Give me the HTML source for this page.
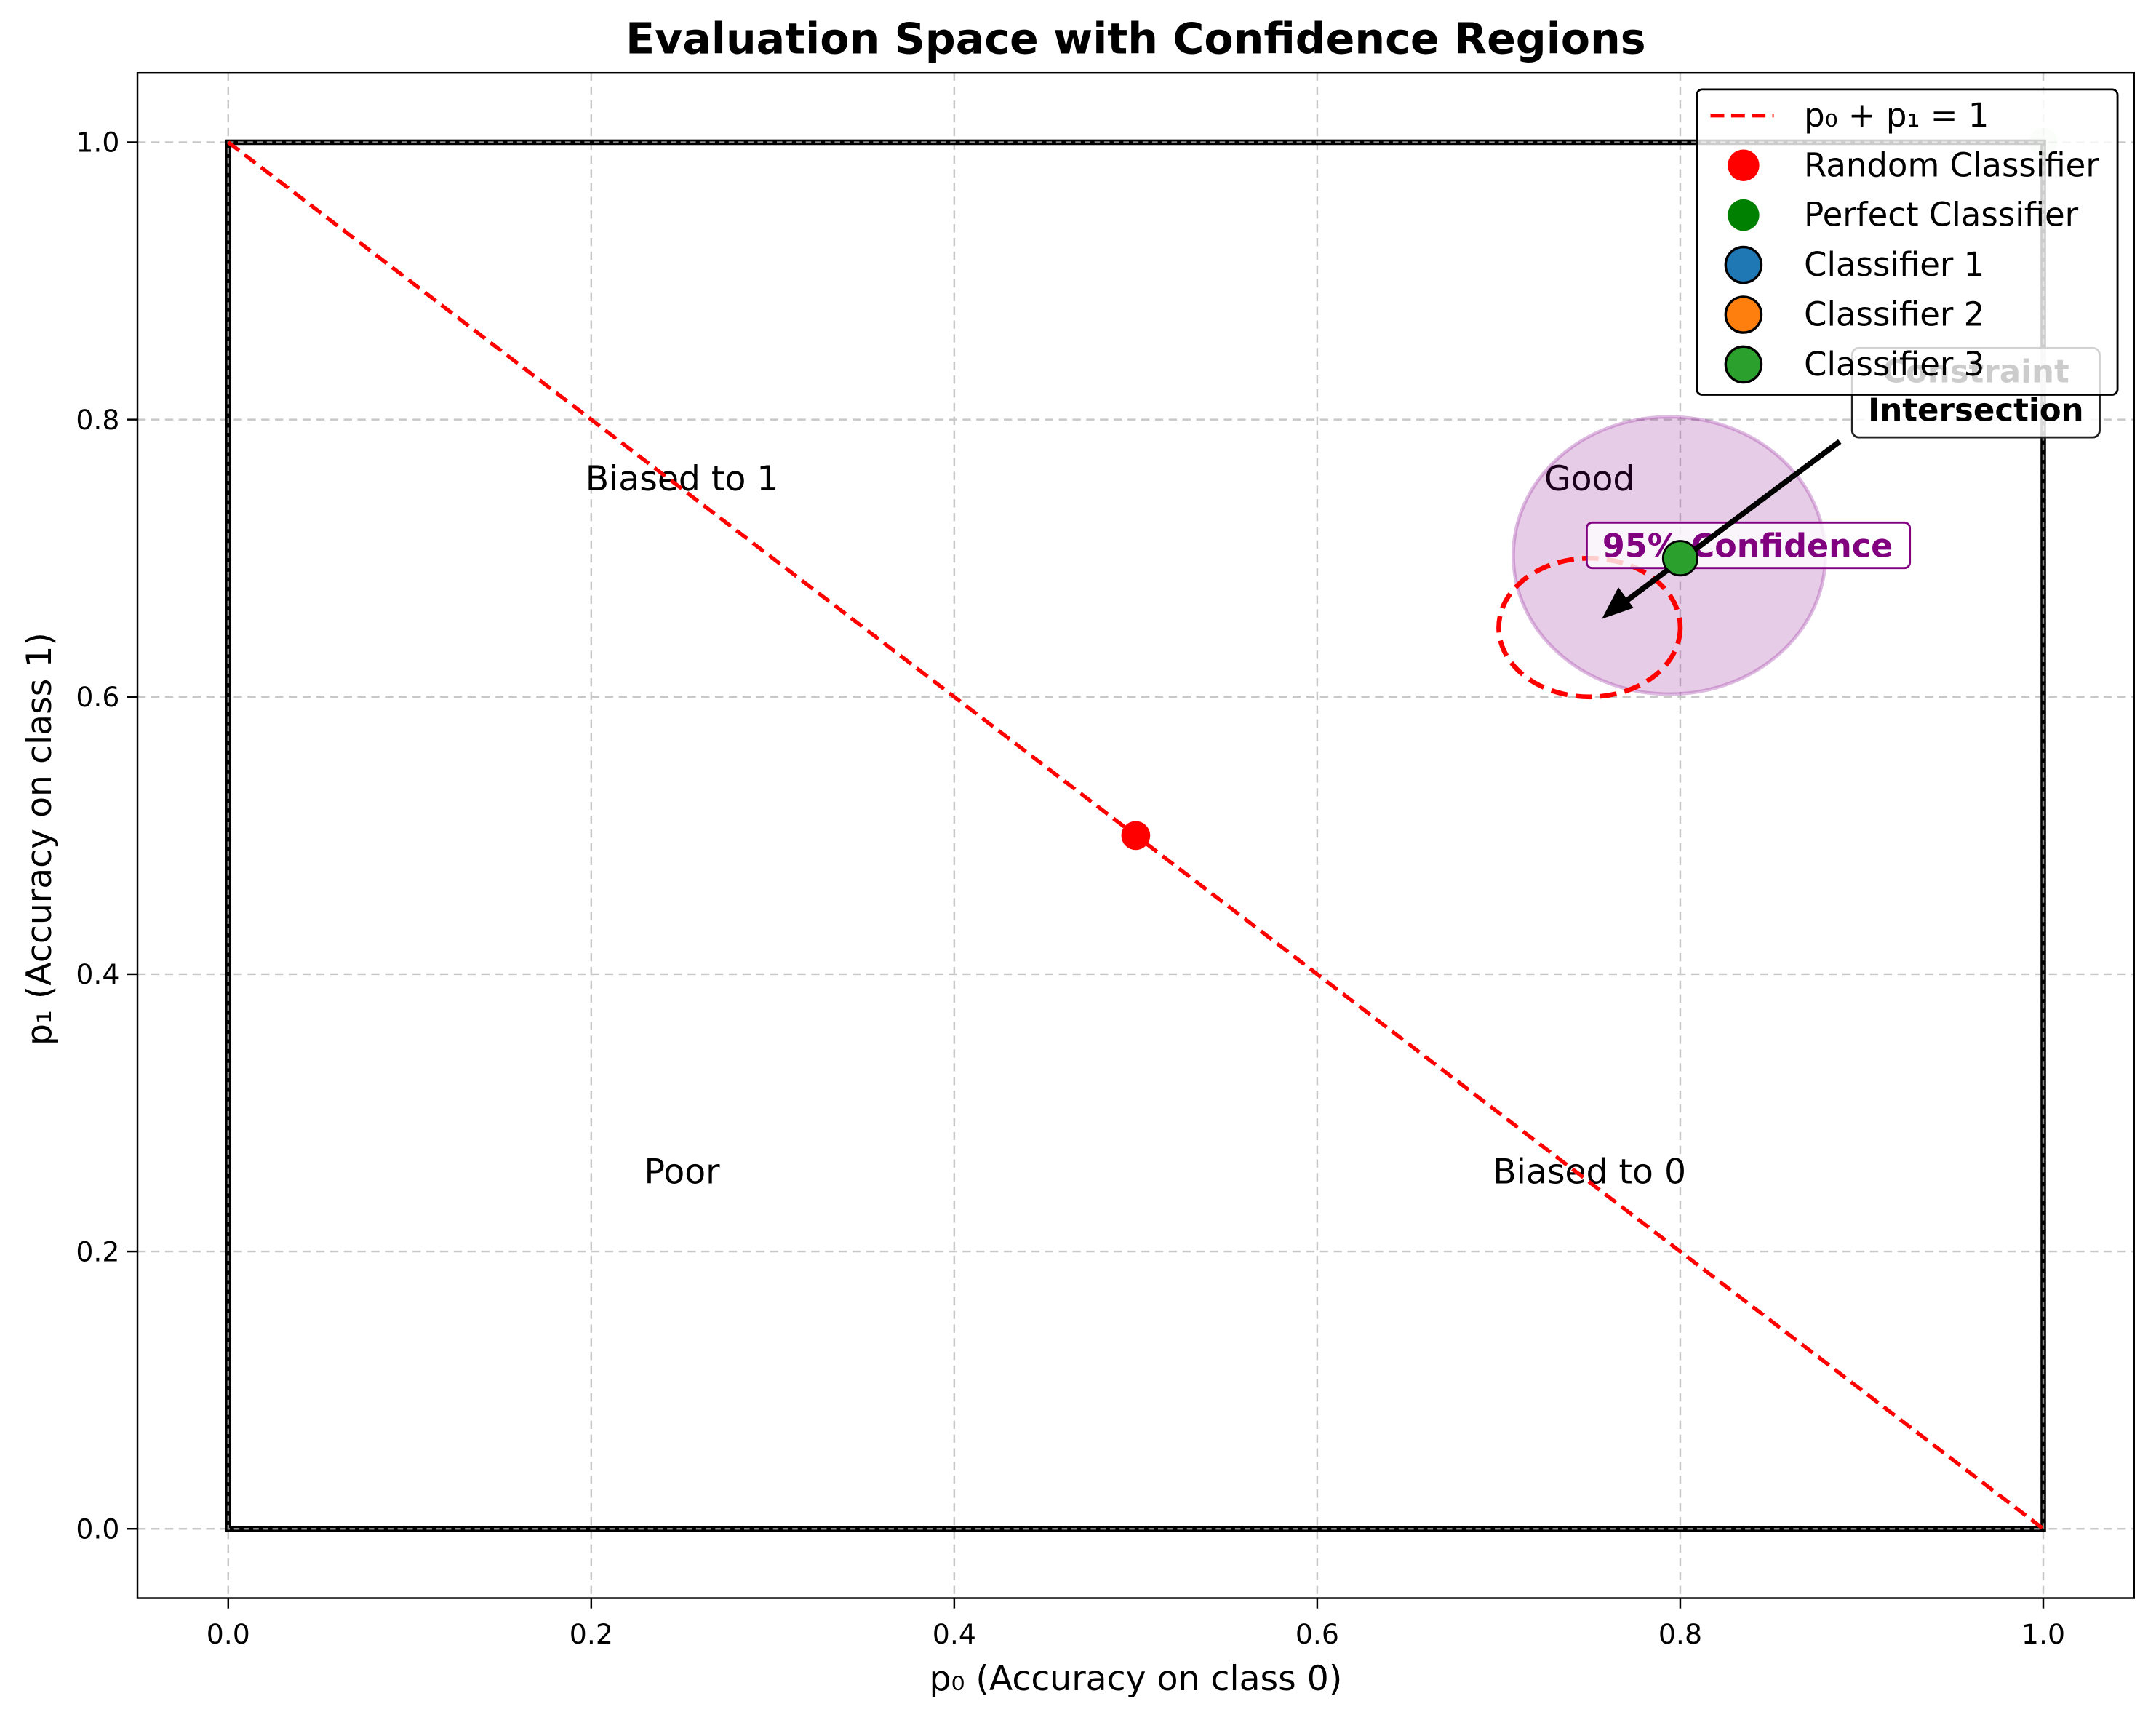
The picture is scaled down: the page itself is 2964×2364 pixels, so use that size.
<!DOCTYPE html>
<html><head><meta charset="utf-8"><style>
html,body{margin:0;padding:0;background:#fff;}
svg{display:block;font-family:"DejaVu Sans","Liberation Sans",sans-serif;}
</style></head><body>
<svg id="chart" width="2964" height="2364" viewBox="0 0 1568 1250.6" preserveAspectRatio="none" xmlns="http://www.w3.org/2000/svg">
<text x="826" y="39" text-anchor="middle" font-size="31" font-weight="bold">Evaluation Space with Confidence Regions</text>
<g id="plot"></g>
<text x="826" y="1229" text-anchor="middle" font-size="25">p₀ (Accuracy on class 0)</text>
<text transform="translate(37,610) rotate(-90)" text-anchor="middle" font-size="25">p₁ (Accuracy on class 1)</text>
</svg>
<script>
const xTicks = [0, 0.2, 0.4, 0.6, 0.8, 1.0];
const yTicks = [0, 0.2, 0.4, 0.6, 0.8, 1.0];
const tickLabels = ["0.0", "0.2", "0.4", "0.6", "0.8", "1.0"];
const pointNames = ["Random Classifier", "Perfect Classifier", "Classifier 3"];
const pointX = [0.5, 1.0, 0.8];
const pointY = [0.5, 1.0, 0.7];
const ellipseCenter = [0.794, 0.702];
const ellipseRadius = [0.086, 0.1];
const intersectCenter = [0.75, 0.65];
const intersectRadius = [0.05, 0.05];
const regionNames = ["Biased to 1", "Good", "Poor", "Biased to 0"];
const regionX = [0.25, 0.75, 0.25, 0.75];
const regionY = [0.75, 0.75, 0.25, 0.25];

const NS = "http://www.w3.org/2000/svg";
const L = 100, R = 1552, T = 53, B = 1162;
const xmin = -0.05, xmax = 1.05, ymin = -0.05, ymax = 1.05;
const sx = v => L + (v - xmin) / (xmax - xmin) * (R - L);
const sy = v => B - (v - ymin) / (ymax - ymin) * (B - T);
const plot = document.getElementById('plot');
function mk(tag, attrs, parent, text) {
  const e = document.createElementNS(NS, tag);
  for (const k in attrs) e.setAttribute(k, attrs[k]);
  if (text !== undefined) e.textContent = text;
  (parent || plot).appendChild(e);
  return e;
}
xTicks.forEach((t, i) => {
  const g = mk('line', {x1: sx(t), x2: sx(t), y1: T, y2: B, stroke: '#c8c8c8', 'stroke-width': 1.3, 'stroke-dasharray': '6 4'});
  
  
  mk('line', {x1: sx(t), x2: sx(t), y1: B, y2: B + 7.5, stroke: '#000', 'stroke-width': 1.3});
  const lb = mk('text', {x: sx(t), y: B + 33, 'text-anchor': 'middle', 'font-size': 20}, plot, tickLabels[i]);
  
  
});
yTicks.forEach((t, i) => {
  const g = mk('line', {x1: L, x2: R, y1: sy(t), y2: sy(t), stroke: '#c8c8c8', 'stroke-width': 1.3, 'stroke-dasharray': '6 4'});
  
  
  mk('line', {x1: L - 7.5, x2: L, y1: sy(t), y2: sy(t), stroke: '#000', 'stroke-width': 1.3});
  const lb = mk('text', {x: L - 13, y: sy(t) + 7, 'text-anchor': 'end', 'font-size': 20}, plot, tickLabels[i]);
  
  
});
const sq = mk('rect', {x: sx(0), y: sy(1), width: sx(1) - sx(0), height: sy(0) - sy(1), fill: 'none', stroke: '#000', 'stroke-width': 4});


mk('rect', {x: sx(0), y: sy(1), width: sx(1) - sx(0), height: sy(0) - sy(1), fill: 'none', stroke: '#888', 'stroke-width': 1.3, 'stroke-dasharray': '4 3'});
regionNames.forEach((n, i) => {
  const t = mk('text', {x: sx(regionX[i]), y: sy(regionY[i]) + 1, 'text-anchor': 'middle', 'font-size': 25}, plot, n);
  
  
});
const dg = mk('line', {x1: sx(0), y1: sy(1), x2: sx(1), y2: sy(0), stroke: '#ff0000', 'stroke-width': 2.8, 'stroke-dasharray': '10 5'});


const ce = mk('ellipse', {cx: sx(ellipseCenter[0]), cy: sy(ellipseCenter[1]), rx: sx(ellipseRadius[0]) - sx(0), ry: sy(0) - sy(ellipseRadius[1]), fill: 'rgba(128,0,128,0.2)', stroke: 'rgba(160,60,170,0.35)', 'stroke-width': 2.5});


const ie = mk('ellipse', {cx: sx(intersectCenter[0]), cy: sy(intersectCenter[1]), rx: sx(intersectRadius[0]) - sx(0), ry: sy(0) - sy(intersectRadius[1]), fill: 'none', stroke: '#ff0000', 'stroke-width': 3.5, 'stroke-dasharray': '12 6'});


const cb = mk('rect', {x: 1154, y: 380, width: 235, height: 33, rx: 4, fill: 'rgba(255,255,255,0.8)', stroke: '#800080', 'stroke-width': 1.5});


const ct = mk('text', {x: 1271, y: 405, 'text-anchor': 'middle', 'font-size': 23.5, 'font-weight': 'bold', fill: '#800080'}, plot, '95% Confidence');


const ib = mk('rect', {x: 1347, y: 253, width: 180, height: 65, rx: 5, fill: 'rgba(255,255,255,0.85)', stroke: '#222', 'stroke-width': 1.5});


const it1 = mk('text', {x: 1437, y: 278, 'text-anchor': 'middle', 'font-size': 23, 'font-weight': 'bold', fill: '#000'}, plot, 'Constraint');


const it2 = mk('text', {x: 1437, y: 306, 'text-anchor': 'middle', 'font-size': 23, 'font-weight': 'bold', fill: '#000'}, plot, 'Intersection');


const ar = mk('line', {x1: 1338, y1: 321, x2: 1180, y2: 439, stroke: '#000', 'stroke-width': 4});


mk('polygon', {points: '1165,450 1177,427 1188,442', fill: '#000'});
const pFill = ['#ff0000', 'rgba(0,128,0,0.1)', '#2ca02c'];
const pStroke = ['none', 'none', '#000'];
const pR = [10.5, 10.5, 12.5];
pointNames.forEach((n, i) => {
  const c = mk('circle', {cx: sx(pointX[i]), cy: sy(pointY[i]), r: pR[i], fill: pFill[i], stroke: pStroke[i], 'stroke-width': 1.5});
  
  
});
const fr = mk('rect', {x: L, y: T, width: R - L, height: B - T, fill: 'none', stroke: '#000', 'stroke-width': 1.3});


const lg = mk('g', {});


mk('rect', {x: 1234, y: 65, width: 306, height: 222, rx: 4, fill: 'rgba(255,255,255,0.8)', stroke: '#000', 'stroke-width': 1.5}, lg);
const legNames = ['p₀ + p₁ = 1', 'Random Classifier', 'Perfect Classifier', 'Classifier 1', 'Classifier 2', 'Classifier 3'];
const legFill = [null, '#ff0000', '#008000', '#1f77b4', '#ff7f0e', '#2ca02c'];
legNames.forEach((n, i) => {
  const y = 84 + i * 36.2;
  const e = mk('g', {}, lg);
  
  
  if (i === 0) mk('line', {x1: 1244, x2: 1290, y1: y, y2: y, stroke: '#ff0000', 'stroke-width': 2.8, 'stroke-dasharray': '10 5'}, e);
  else mk('circle', {cx: 1268, cy: y, r: i < 3 ? 11.5 : 13, fill: legFill[i], stroke: i < 3 ? 'none' : '#000', 'stroke-width': 1.8}, e);
  mk('text', {x: 1312, y: y + 8, 'font-size': 23.8}, e, n);
});
</script>
</body></html>
